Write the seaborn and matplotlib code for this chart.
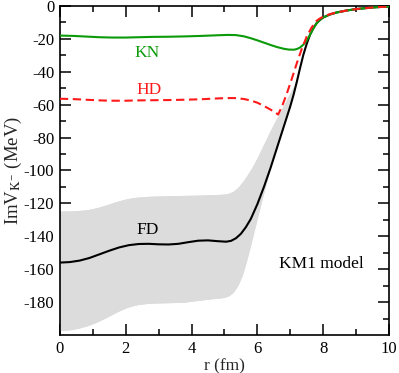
import matplotlib
matplotlib.use("Agg")
import matplotlib.pyplot as plt
import numpy as np
import pandas as pd
import seaborn as sns

# values (r in fm, ImV in MeV)
fd_r = [0, 0.3, 0.6, 0.9, 1.2, 1.5, 1.8, 2.1, 2.4, 2.7, 3.0, 3.3, 3.6, 3.9,
        4.2, 4.5, 4.8, 5.05, 5.2, 5.35, 5.5, 5.65, 5.8, 6.0, 6.2, 6.4, 6.6,
        6.8, 7.0, 7.1, 7.2, 7.3, 7.4, 7.5, 7.6, 7.7, 7.8, 7.9, 8.0, 8.2, 8.4,
        8.7, 9.0, 9.5, 10.0]
fd_v = [-156, -155.7, -154.8, -153.2, -151, -148.8, -146.8, -145.4, -144.7,
        -144.6, -144.9, -145, -144.6, -143.6, -142.7, -142.5, -143, -143.3,
        -142.8, -141.2, -138.5, -134.5, -129.5, -120.5, -110, -98.5, -86,
        -73.5, -61, -54, -46, -37.5, -29.5, -23, -17.5, -13.5, -10.5, -8.5,
        -7, -5.2, -4, -2.8, -1.9, -0.9, -0.3]

band_r = [0, 0.4, 0.8, 1.1, 1.4, 1.7, 2.0, 2.3, 2.7, 3.2, 3.7, 4.2, 4.7, 5.0,
          5.15, 5.3, 5.45, 5.6, 5.75, 5.9, 6.1, 6.3, 6.5, 6.7, 6.9, 7.05, 7.2]
band_hi = [-124.7, -124.6, -124, -122.8, -121, -119, -117.3, -116.3, -115.7,
           -115.4, -115.2, -115, -114.7, -114.4, -113.8, -112.3, -109.5,
           -105.5, -101, -96, -88, -79.5, -71.5, -64, -56.5, -50.5, -46]
band_lo_r = [0, 0.3, 0.6, 0.9, 1.2, 1.5, 1.8, 2.1, 2.4, 2.8, 3.3, 3.8, 4.2,
             4.6, 4.9, 5.1, 5.25, 5.4, 5.55, 5.7, 5.85, 6.0, 6.2, 6.4, 6.6,
             6.8, 7.0, 7.2]
band_lo = [-197.4, -197, -195.8, -194, -191.5, -188.5, -185.3, -182.8,
           -181.3, -180.6, -180.4, -180.1, -179, -178, -177.6, -176.6, -174.5,
           -170.5, -163.5, -153, -141, -129, -113, -98, -84, -71, -58.5, -46]

kn_r = [0, 0.4, 0.8, 1.2, 1.6, 2.0, 2.4, 2.8, 3.3, 3.8, 4.3, 4.8, 5.1, 5.35,
        5.6, 5.8, 6.0, 6.2, 6.4, 6.6, 6.8, 6.95, 7.1, 7.2, 7.3, 7.4, 7.5, 7.6,
        7.7, 7.8, 7.9, 8.0, 8.2, 8.4, 8.7, 9.0, 9.5, 10.0]
kn_v = [-18, -18.2, -18.6, -19, -19.2, -19.2, -19, -18.8, -18.7, -18.5, -18.2,
        -17.8, -17.6, -17.7, -18.5, -19.6, -20.9, -22.3, -23.7, -25, -26,
        -26.5, -26.6, -26.2, -25.2, -23.5, -21, -17.5, -13.8, -10.5, -8.5, -7,
        -5.2, -4, -2.8, -1.9, -0.9, -0.3]

hd_r = [0, 0.4, 0.8, 1.2, 1.6, 2.0, 2.4, 2.8, 3.3, 3.8, 4.3, 4.8, 5.1, 5.35,
        5.6, 5.8, 6.0, 6.2, 6.4, 6.55, 6.63, 6.75, 6.9, 7.05, 7.2, 7.35, 7.5,
        7.65, 7.8, 7.9, 8.0, 8.2, 8.4, 8.7, 9.0, 9.5, 10.0]
hd_v = [-56.4, -56.6, -57, -57.4, -57.6, -57.6, -57.4, -57.3, -57.2, -57,
        -56.7, -56.2, -56, -56, -56.6, -57.5, -58.8, -60.8, -63, -64.8, -66,
        -61, -53, -44, -34.7, -26, -18.6, -13, -9, -7.6, -6.5, -5, -4, -2.8,
        -1.9, -0.9, -0.3]

GREEN = "#0a9a0a"
RED = "#ff1a1a"

sns.set_theme(style="ticks")
plt.rcParams["font.family"] = ["Liberation Serif", "DejaVu Serif"]
plt.rcParams["mathtext.fontset"] = "stix"
plt.rcParams["axes.unicode_minus"] = False
plt.rcParams["lines.solid_joinstyle"] = "round"
plt.rcParams["lines.dash_joinstyle"] = "round"

fig = plt.figure(figsize=(3.99, 3.73), dpi=100)
ax = fig.add_axes([0.150, 0.102, 0.825, 0.882])

# error band of the FD potential
lo_on_hi = np.interp(band_r, band_lo_r, band_lo)
ax.fill_between(band_r, lo_on_hi, band_hi, color="#dcdcdc", linewidth=0, zorder=1)
ax.fill_between(band_lo_r, band_lo, np.interp(band_lo_r, band_r, band_hi),
                color="#dcdcdc", linewidth=0, zorder=1)

fd = pd.DataFrame({"r": fd_r, "v": fd_v})
kn = pd.DataFrame({"r": kn_r, "v": kn_v})
hd = pd.DataFrame({"r": hd_r, "v": hd_v})

sns.lineplot(data=fd, x="r", y="v", color="black", linewidth=1.5, ax=ax,
             sort=False, zorder=3)
sns.lineplot(data=kn, x="r", y="v", color=GREEN, linewidth=1.5, ax=ax,
             sort=False, zorder=4)
sns.lineplot(data=hd, x="r", y="v", color=RED, linewidth=1.5, ax=ax,
             sort=False, zorder=5)
ax.lines[-1].set_dashes((4, 2.2))

ax.text(2.64, -28.5, "KN", color=GREEN, fontsize=12.5, ha="center", va="center")
ax.text(2.7, -51.3, "HD", color=RED, fontsize=12.5, ha="center", va="center")
ax.text(2.68, -136.4, "FD", color="black", fontsize=12.5, ha="center", va="center")
ax.text(7.93, -156.6, "KM1 model", color="black", fontsize=12.5,
        ha="center", va="center")

ax.set_xlim(0, 10)
ax.set_ylim(-200, 0)
ax.set_xticks([0, 2, 4, 6, 8, 10])
ax.set_xticks(np.arange(1, 10, 2), minor=True)
ax.set_yticks(np.arange(-180, 1, 20))
ax.set_yticks(np.arange(-190, 0, 20), minor=True)
ax.tick_params(which="both", direction="in", top=True, right=True,
               labelsize=12, width=1.1, colors="black")
ax.tick_params(which="major", length=8, pad=4)
ax.tick_params(which="minor", length=4)
for s in ax.spines.values():
    s.set_linewidth(1.2)
    s.set_color("black")

ax.set_xlabel("r (fm)", fontsize=12.5, labelpad=1)
ax.set_ylabel(r"ImV$_{\mathrm{K}^{-}}$ (MeV)", fontsize=13.5, labelpad=0)

fig.savefig("out.png", dpi=100)
